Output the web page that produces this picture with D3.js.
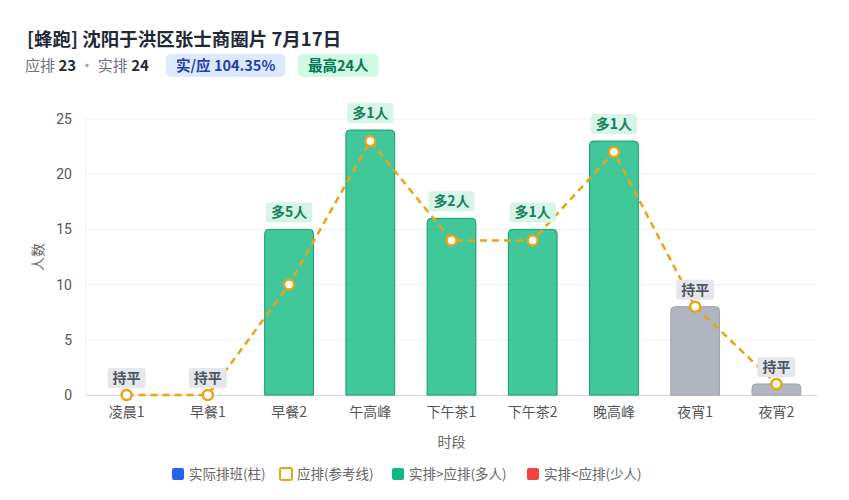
<!DOCTYPE html>
<html>
<head>
<meta charset="utf-8">
<script src="https://cdn.jsdelivr.net/npm/d3@7"></script>
<style>
  body { margin: 0; background: #fff; font-family: "Noto Sans CJK SC", "Noto Sans", sans-serif; }
</style>
</head>
<body>
<svg id="chart"></svg>
<script>
// data
const slots = ["凌晨1", "早餐1", "早餐2", "午高峰", "下午茶1", "下午茶2", "晚高峰", "夜宵1", "夜宵2"];
const actual = [0, 0, 15, 24, 16, 15, 23, 8, 1];
const expected = [0, 0, 10, 23, 14, 14, 22, 8, 1];
const yTicks = [0, 5, 10, 15, 20, 25];
const legendItems = ["实际排班(柱)", "应排(参考线)", "实排>应排(多人)", "实排<应排(少人)"];

const width = 849, height = 500;
const margin = { top: 119, right: 32, bottom: 105, left: 86 };

const svg = d3.select("#chart").attr("width", width).attr("height", height);

// header
svg.append("text")
  .attr("x", 27).attr("y", 46)
  .style("font-size", "18.5px").style("font-weight", "bold").style("fill", "#1f2937")
  .text("[蜂跑] 沈阳于洪区张士商圈片 7月17日");

const sub = svg.append("text").attr("x", 25).attr("y", 71).style("font-size", "15px");
sub.append("tspan").style("fill", "#6b7280").text("应排 ");
sub.append("tspan").style("fill", "#1f2937").style("font-weight", "bold").text("23");
sub.append("tspan").style("fill", "#9ca3af").text(" · ");
sub.append("tspan").style("fill", "#6b7280").text("实排 ");
sub.append("tspan").style("fill", "#1f2937").style("font-weight", "bold").text("24");

function badge(x, text, bg, fg) {
  const g = svg.append("g").attr("transform", `translate(${x},54)`);
  const t = g.append("text").attr("x", 10).attr("y", 17)
    .style("font-size", "14.5px").style("font-weight", "bold").style("fill", fg).text(text);
  const w = t.node().getComputedTextLength() + 20;
  g.insert("rect", "text").attr("width", w).attr("height", 23).attr("rx", 5).attr("fill", bg);
}
badge(166, "实/应 104.35%", "#dbeafe", "#1e40af");
badge(298, "最高24人", "#d1fae5", "#047857");

// scales
const x = d3.scaleBand().domain(slots)
  .range([margin.left, width - margin.right]).paddingInner(0.4).paddingOuter(0.2);
const y = d3.scaleLinear().domain([0, 25]).range([height - margin.bottom, margin.top]);

// grid
svg.append("g").selectAll("line").data(yTicks.slice(1)).join("line")
  .attr("x1", margin.left).attr("x2", width - margin.right)
  .attr("y1", d => y(d)).attr("y2", d => y(d))
  .attr("stroke", "#f0f0f0");

svg.append("line")
  .attr("x1", margin.left).attr("x2", margin.left)
  .attr("y1", y(25)).attr("y2", y(0)).attr("stroke", "#f0f0f0");

// y axis
const yAxis = svg.append("g").attr("transform", `translate(${margin.left},0)`)
  .call(d3.axisLeft(y).tickValues(yTicks).tickSize(0).tickPadding(14));
yAxis.select(".domain").remove();
yAxis.selectAll("text").style("font-size", "14px").style("fill", "#555")
  .style("font-family", "Roboto, 'Noto Sans', sans-serif");

// x axis
const xAxis = svg.append("g").attr("transform", `translate(0,${y(0)})`)
  .call(d3.axisBottom(x).tickSize(0).tickPadding(12));
xAxis.select(".domain").attr("stroke", "#d4d4d4").attr("d", `M${margin.left},0.5H${width - margin.right}`);
xAxis.selectAll("text").style("font-size", "14px").style("fill", "#555")
  .style("font-family", "'Noto Sans CJK SC', sans-serif");

// axis titles
svg.append("text")
  .attr("transform", `translate(43,${(y(0) + y(25)) / 2}) rotate(-90)`)
  .attr("text-anchor", "middle").style("font-size", "14px").style("fill", "#666")
  .text("人数");
svg.append("text")
  .attr("x", (margin.left + width - margin.right) / 2).attr("y", 447)
  .attr("text-anchor", "middle").style("font-size", "14px").style("fill", "#666")
  .text("时段");

// bars
const data = slots.map((s, i) => ({ slot: s, actual: actual[i], expected: expected[i], diff: actual[i] - expected[i] }));

function barPath(d) {
  const x0 = x(d.slot), w = x.bandwidth(), y0 = y(0), y1 = y(d.actual);
  const r = Math.min(4, (y0 - y1) / 2);
  return `M${x0},${y0}V${y1 + r}Q${x0},${y1} ${x0 + r},${y1}H${x0 + w - r}Q${x0 + w},${y1} ${x0 + w},${y1 + r}V${y0}Z`;
}

svg.append("g").selectAll("path").data(data.filter(d => d.actual > 0)).join("path")
  .attr("d", barPath)
  .attr("fill", d => d.diff > 0 ? "#10b981" : d.diff < 0 ? "#ef4444" : "#9ca3af")
  .attr("fill-opacity", 0.8)
  .attr("stroke", d => d.diff > 0 ? "#0f9e6e" : d.diff < 0 ? "#dc2626" : "#9ca3af")
  .attr("stroke-width", 1);

// reference line
const line = d3.line()
  .x(d => x(d.slot) + x.bandwidth() / 2)
  .y(d => y(d.expected));

svg.append("path").datum(data)
  .attr("d", line).attr("fill", "none")
  .attr("stroke", "#e8a317").attr("stroke-width", 2.5)
  .attr("stroke-dasharray", "7,5");

svg.append("g").selectAll("circle").data(data).join("circle")
  .attr("cx", d => x(d.slot) + x.bandwidth() / 2)
  .attr("cy", d => y(d.expected))
  .attr("r", 5)
  .attr("fill", "#fff").attr("stroke", "#e8a317").attr("stroke-width", 2.5);

// labels above bars
const labels = svg.append("g").selectAll("g").data(data).join("g")
  .attr("transform", d => `translate(${x(d.slot) + x.bandwidth() / 2},${y(d.actual) - 17})`);

labels.each(function (d) {
  const g = d3.select(this);
  const txt = d.diff > 0 ? `多${d.diff}人` : d.diff < 0 ? `少${-d.diff}人` : "持平";
  const fg = d.diff > 0 ? "#15805a" : d.diff < 0 ? "#b91c1c" : "#4b5563";
  const bg = d.diff > 0 ? "#d7f5e7" : d.diff < 0 ? "#fee2e2" : "#e5e7eb";
  const t = g.append("text").attr("text-anchor", "middle").attr("y", 5)
    .style("font-size", "14px").style("font-weight", "bold").style("fill", fg).text(txt);
  const w = t.node().getComputedTextLength() + 10;
  g.insert("rect", "text").attr("x", -w / 2).attr("y", -10).attr("width", w).attr("height", 20)
    .attr("rx", 3).attr("fill", bg);
});

// legend
const legendColors = ["#2563eb", null, "#10b981", "#ef4444"];
const legendX = [172, 280, 392, 527];
const lg = svg.append("g").selectAll("g").data(legendItems).join("g")
  .attr("transform", (d, i) => `translate(${legendX[i]},468)`);
lg.append("rect")
  .attr("width", 12).attr("height", 12).attr("rx", 2)
  .attr("fill", (d, i) => legendColors[i] || "#fff")
  .attr("stroke", (d, i) => legendColors[i] ? "none" : "#e8a317")
  .attr("stroke-width", 2);
lg.append("text").attr("x", 17).attr("y", 11)
  .style("font-size", "13.5px").style("fill", "#666").text(d => d);
</script>
</body>
</html>
